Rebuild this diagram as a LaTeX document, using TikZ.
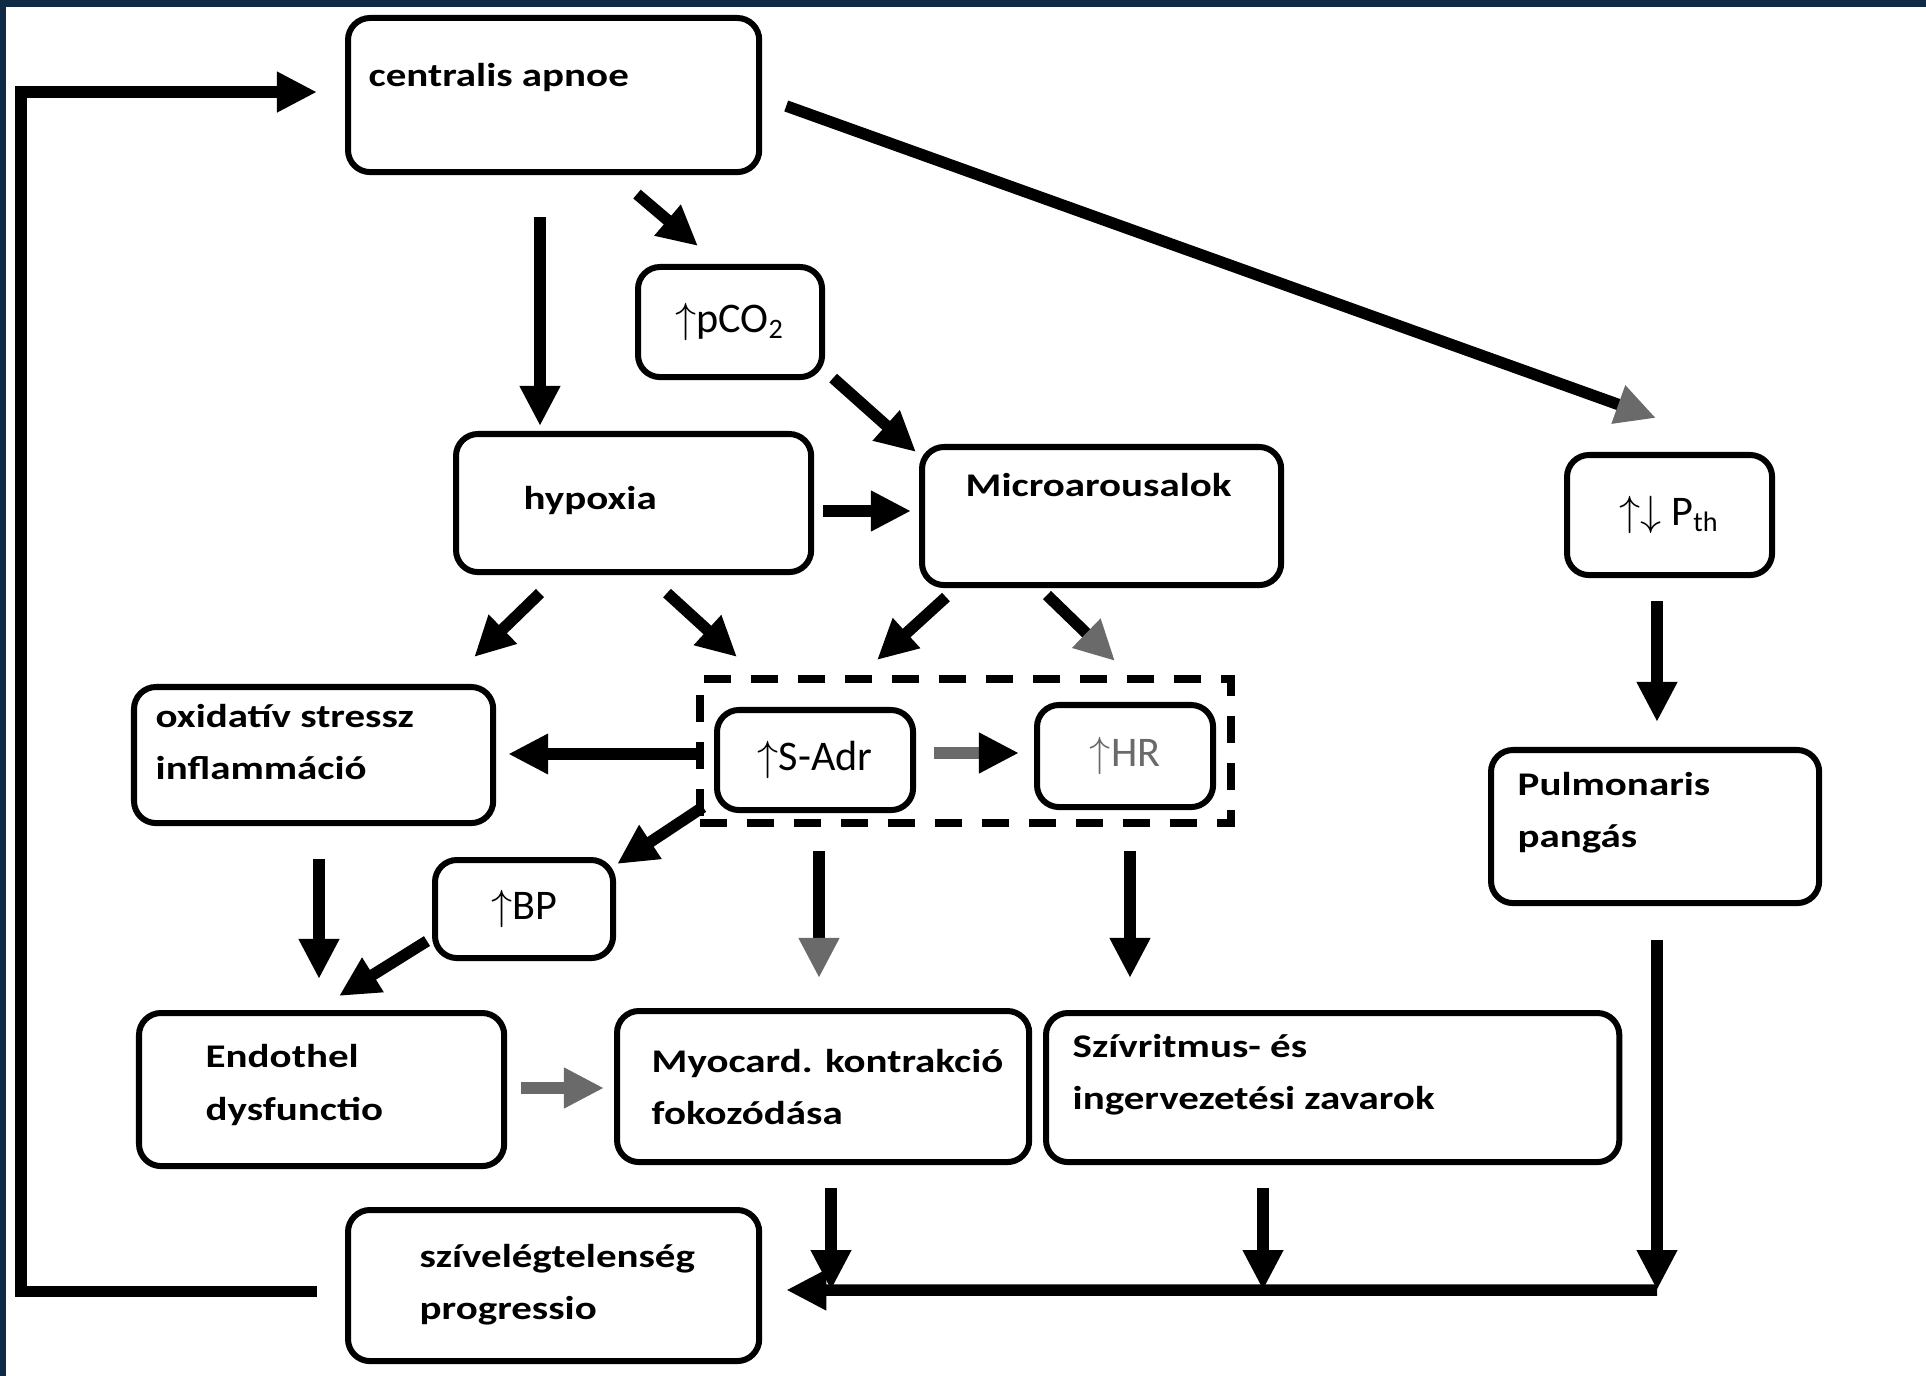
\documentclass[tikz,border=0pt]{standalone}
\usepackage{fontspec}
\setmainfont{Carlito}
\newfontfamily\lblfont[FakeStretch=1.24]{Carlito}
\usetikzlibrary{arrows.meta,calc}

\definecolor{navy}{HTML}{0E2A45}
\definecolor{tipgrey}{HTML}{6A6A6A}

\tikzset{
  box/.style={draw, line width=0.06cm, rounded corners=0.22cm, anchor=north west, inner sep=0pt, outer sep=0pt},
  smallbox/.style={box, font=\fontsize{12}{14}\selectfont},
  grpbox/.style={draw, line width=0.08cm, dash pattern=on 0.27cm off 0.2cm, anchor=north west, inner sep=0pt, outer sep=0pt},
  lbl/.style={font=\lblfont\bfseries\fontsize{9.4}{14.8}\selectfont, align=left, inner sep=0pt},
  arr/.style={line width=0.115cm, -{Triangle[length=0.4cm,width=0.38cm]}},
  greyhead/.style={-{Triangle[length=0.4cm,width=0.38cm,color=tipgrey]}}
}

\begin{document}
\begin{tikzpicture}[x=0.01cm, y=-0.01cm]

  % page and frame
  \fill[white] (0,0) rectangle (1926,1376);
  \fill[navy] (0,0) rectangle (1926,7);
  \fill[navy] (0,0) rectangle (6,1376);
  \useasboundingbox (0,0) rectangle (1926,1376);

  % boxes
  \node[box, minimum width=4.11cm, minimum height=1.54cm] (cap) at (348,18) {};
    \node[lbl, anchor=base west] (cap_t) at (368,87) {centralis apnoe};
  \node[smallbox, minimum width=1.84cm, minimum height=1.10cm] (pco) at (638,267) {$\uparrow$pCO\textsubscript{2}};
  \node[box, minimum width=3.55cm, minimum height=1.38cm] (hyp) at (456,434) {};
    \node[lbl, anchor=base west] (hyp_t) at (523,510) {hypoxia};
  \node[box, minimum width=3.59cm, minimum height=1.38cm] (mic) at (922,447) {};
    \node[lbl, anchor=base west] (mic_t) at (965,496) {Microarousalok};
  \node[smallbox, minimum width=2.05cm, minimum height=1.20cm] (pth) at (1567,455) {$\uparrow\downarrow$ P\textsubscript{th}};

  \node[box, minimum width=3.59cm, minimum height=1.36cm] (ox) at (134,687) {};
    \node[lbl, anchor=west] (ox_t) at (155,742) {oxidatív stressz\\inflammáció};
  \node[grpbox, minimum width=5.31cm, minimum height=1.44cm] (grp) at (700,679) {};
  \node[smallbox, minimum width=1.96cm, minimum height=1.00cm] (sadr) at (717,710) {$\uparrow$S-Adr};
  \node[smallbox, minimum width=1.76cm, minimum height=1.02cm, text=tipgrey] (hr) at (1037,705) {$\uparrow$HR};
  \node[smallbox, minimum width=1.78cm, minimum height=0.98cm] (bp) at (435,860) {$\uparrow$BP};
  \node[box, minimum width=3.28cm, minimum height=1.53cm] (pulm) at (1491,750) {};
    \node[lbl, anchor=west] (pulm_t) at (1517,813) {Pulmonaris\\pangás};

  \node[box, minimum width=3.65cm, minimum height=1.53cm] (endo) at (139,1013) {};
    \node[lbl, anchor=west] (endo_t) at (205,1085) {Endothel\\dysfunctio};
  \node[box, minimum width=4.12cm, minimum height=1.51cm] (myo) at (617,1011) {};
    \node[lbl, anchor=west] (myo_t) at (651,1087) {Myocard. kontrakció\\fokozódása};
  \node[box, minimum width=5.73cm, minimum height=1.49cm] (szr) at (1046,1013) {};
    \node[lbl, anchor=west] (szr_t) at (1072,1075) {Szívritmus- és\\ingervezetési zavarok};
  \node[box, minimum width=4.11cm, minimum height=1.51cm] (szv) at (348,1210) {};
    \node[lbl, anchor=west] (szv_t) at (419,1285) {szívelégtelenség\\progressio};

  % connectors
  \draw[arr] ($(szv.west)+(-31,6)$) -- ++(-296,0) |- ($(cap.west)+(-31,-3)$);
  \draw[arr] ($(cap.south west)+(192,45)$) -- ($(hyp.north west)+(84,-8)$);
  \draw[arr] ($(cap.south west)+(289,22)$) -- ($(pco.north west)+(60,-21)$);
  \draw[arr, greyhead] ($(cap.north east)+(27,88)$) -- ($(pth.north west)+(89,-37)$);
  \draw[arr] ($(pco.south east)+(11,1)$) -- ($(mic.north west)+(-6,5)$);
  \draw[arr] ($(hyp.north east)+(12,77)$) -- ($(mic.north west)+(-11,64)$);
  \draw[arr] ($(hyp.south west)+(84,21)$) -- ($(ox.north east)+(-19,-30)$);
  \draw[arr] ($(hyp.south west)+(211,21)$) -- ($(grp.north west)+(37,-22)$);
  \draw[arr] ($(mic.south west)+(24,12)$) -- ($(grp.north west)+(177,-19)$);
  \draw[arr, greyhead] ($(mic.south west)+(125,10)$) -- ($(grp.north west)+(415,-18)$);
  \draw[arr] ($(grp.north west)+(0,75)$) -- ($(ox.north east)+(15,67)$);
  \draw[arr, draw=tipgrey, -{Triangle[length=0.4cm,width=0.38cm,color=black]}] ($(sadr.north east)+(21,43)$) -- ($(hr.north west)+(-18,48)$);
  \draw[arr] ($(grp.south west)+(3,-16)$) -- ($(bp.north east)+(4,4)$);
  \draw[arr, greyhead] ($(grp.south west)+(119,28)$) -- ($(myo.north west)+(202,-33)$);
  \draw[arr] ($(grp.south west)+(430,28)$) -- ($(szr.north west)+(84,-35)$);
  \draw[arr] ($(ox.south west)+(185,36)$) -- ($(endo.north west)+(180,-34)$);
  \draw[arr] ($(bp.south west)+(-8,-17)$) -- ($(endo.north west)+(200,-17)$);
  \draw[arr, draw=tipgrey] ($(endo.north east)+(17,75)$) -- ($(myo.north west)+(-13,77)$);
  \draw[arr] ($(pth.south west)+(90,26)$) -- ($(pulm.north west)+(166,-28)$);

  \coordinate (bus) at ($(pulm.south west)+(166,387)$);
  \draw[arr] ($(pulm.south west)+(166,37)$) -- (bus);
  \draw[arr] ($(myo.south west)+(214,26)$) coordinate (m1) -- (m1 |- bus);
  \draw[arr] ($(szr.south west)+(217,26)$) coordinate (s1) -- (s1 |- bus);
  \draw[arr] (bus) -- ($(szv.north east)+(27,80)$);

\end{tikzpicture}
\end{document}
